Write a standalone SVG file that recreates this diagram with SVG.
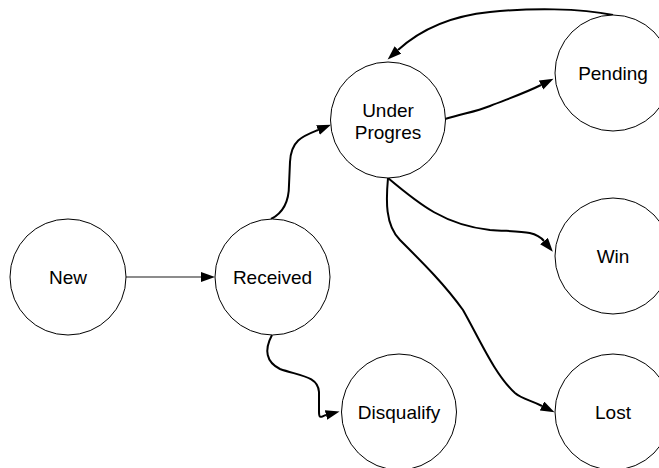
<svg xmlns="http://www.w3.org/2000/svg" width="659" height="468" viewBox="0 0 659 468">
<style>
.node ellipse{fill:#fff;stroke:#000;stroke-width:1}
.node text{font-family:"Liberation Sans",Arial,sans-serif;font-size:19px;fill:#000;text-anchor:middle}
.edge{fill:none;stroke:#000;stroke-width:2;marker-end:url(#arrow)}
.edge.plain{stroke:#666;stroke-width:1.5}
</style>
<defs>
<marker id="arrow" markerUnits="userSpaceOnUse" markerWidth="15" markerHeight="11" refX="0" refY="5" orient="auto" viewBox="0 0 15 11">
<path d="M0,0 L14,5 L0,10 z" fill="#000"/>
</marker>
</defs>
<rect width="659" height="468" fill="#fff"/>
<g id="connectors">
<path class="edge plain" d="M126,277 L201,277"/>
<path class="edge" d="M271,219 C285,212 289,200 289,185 L290,162 C291,140 303,136 318,130"/>
<path class="edge" d="M445,119 C465,113 475,112 490,106 C510,98 525,93 541,85"/>
<path class="edge" d="M613,15 C580,8 530,8 490,12 C450,16 420,30 398,50"/>
<path class="edge" d="M388,178 C420,205 445,225 490,230 C520,232 535,230 544,241"/>
<path class="edge" d="M388,178 C386,200 385,225 400,240 C425,265 445,285 463,310 C480,340 495,375 515,393 C522,399 530,400 542,406"/>
<path class="edge" d="M272,335 C264,350 266,362 280,369 C300,376 318,376 319,392 L319,412 C319,420 322,416 326,415"/>
</g>
<g id="node-new" class="node"><ellipse cx="68" cy="277" rx="58" ry="58"/><text x="68" y="284">New</text></g>
<g id="node-received" class="node"><ellipse cx="272.5" cy="277" rx="57.5" ry="58"/><text x="272.5" y="284">Received</text></g>
<g id="node-under-progres" class="node"><ellipse cx="388" cy="120" rx="57.5" ry="58"/><text x="388" y="117">Under</text><text x="388" y="139">Progres</text></g>
<g id="node-pending" class="node"><ellipse cx="613" cy="73" rx="58" ry="58"/><text x="613" y="80">Pending</text></g>
<g id="node-win" class="node"><ellipse cx="613" cy="256" rx="58" ry="58"/><text x="613" y="263">Win</text></g>
<g id="node-disqualify" class="node"><ellipse cx="399" cy="412" rx="57.5" ry="58"/><text x="399" y="419">Disqualify</text></g>
<g id="node-lost" class="node"><ellipse cx="613" cy="412" rx="58" ry="58"/><text x="613" y="419">Lost</text></g>
</svg>
